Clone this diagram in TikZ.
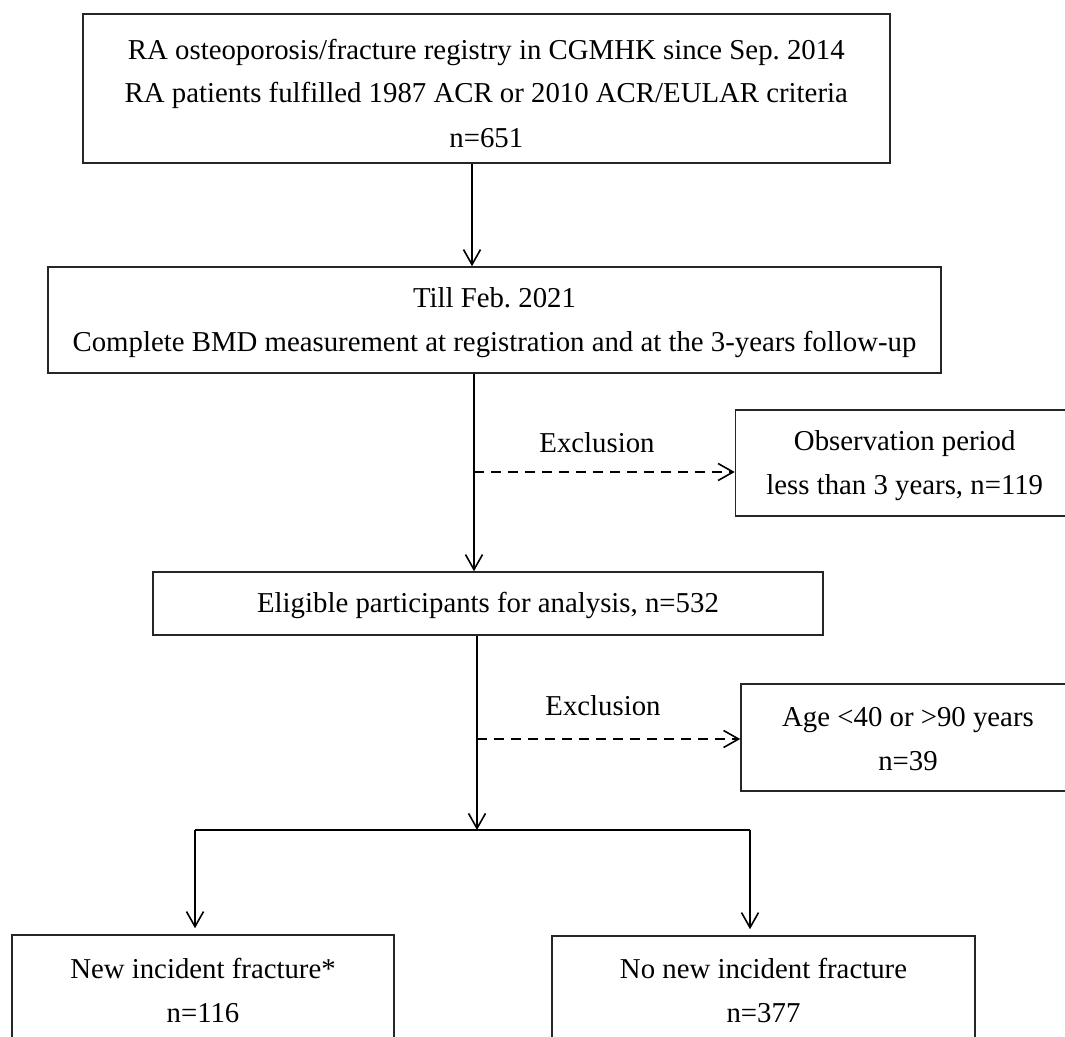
\documentclass[tikz,border=0pt]{standalone}
\usepackage{fontspec}
\setmainfont{Liberation Serif}
\usetikzlibrary{arrows.meta}
\frenchspacing
\begin{document}
\begin{tikzpicture}[x=1pt,y=-1pt,
  box/.style={draw=black!85, line width=1.6pt, rectangle, inner sep=0pt},
  txt/.style={inner sep=0pt, align=center, font=\fontsize{28.8}{44}\selectfont},
  ln/.style={line width=1.6pt},
  arr/.style={line width=1.6pt, -{Straight Barb[length=15pt,width=17pt,line width=1.6pt]}},
  darr/.style={arr, dash pattern=on 10pt off 7pt}]
\clip (0,0) rectangle (1065,1036);
\fill[white] (0,0) rectangle (1065,1036);
% boxes
\node[box, minimum width=807pt, minimum height=149pt] (b1) at (486.3,88.5) {};
\node[box, minimum width=893pt, minimum height=106pt] (b2) at (494.5,320) {};
\node[box, minimum width=338.5pt, minimum height=106pt] (b3) at (904.75,463) {};
\node[box, minimum width=670pt, minimum height=63pt] (b4) at (488,603.5) {};
\node[box, minimum width=334pt, minimum height=107pt] (b5) at (908,737.5) {};
\node[box, minimum width=382pt, minimum height=110pt] (b6) at (203,990) {};
\node[box, minimum width=423pt, minimum height=108pt] (b7) at (763.5,990) {};
% texts
\node[txt] (t1) at (486.3,93)
  {RA osteoporosis/fracture registry in CGMHK since Sep. 2014\\RA patients fulfilled 1987 ACR or 2010 ACR/EULAR criteria\\n=651};
\node[txt] (t2) at (494.5,323)
  {Till Feb. 2021\\Complete BMD measurement at registration and at the 3-years follow-up};
\node[txt] (t3) at (904.75,466)
  {Observation period\\less than 3 years, n=119};
\node[txt] (t4) at (488,605) {Eligible participants for analysis, n=532};
\node[txt] (t5) at (908,739) {Age <40 or >90 years\\n=39};
\node[txt] (t6) at (203,990) {New incident fracture*\\n=116};
\node[txt] (t7) at (763.5,990) {No new incident fracture\\n=377};
% labels
\node[txt] (x1) at (597,443) {Exclusion};
\node[txt] (x2) at (603,706) {Exclusion};
% coordinates
\coordinate (c1) at (472,0);
\coordinate (c2) at (474,0);
\coordinate (c3) at (477,0);
\coordinate (e1) at (474,472);
\coordinate (e2) at (477,739);
\coordinate (sp) at (477,830);
\coordinate (sl) at (195,830);
\coordinate (sr) at (750,830);
% connectors
\draw[arr] (b1.south -| c1) -- (b2.north -| c1);
\draw[arr] (b2.south -| c2) -- (b4.north -| c2);
\draw[darr] (e1) -- (e1 -| b3.west);
\draw[arr] (b4.south -| c3) -- (sp);
\draw[darr] (e2) -- (e2 -| b5.west);
\draw[ln] (sl) -- (sr);
\draw[arr, shorten >=6pt] (sl) -- (sl |- b6.north);
\draw[arr, shorten >=6pt] (sr) -- (sr |- b7.north);
\end{tikzpicture}
\end{document}
